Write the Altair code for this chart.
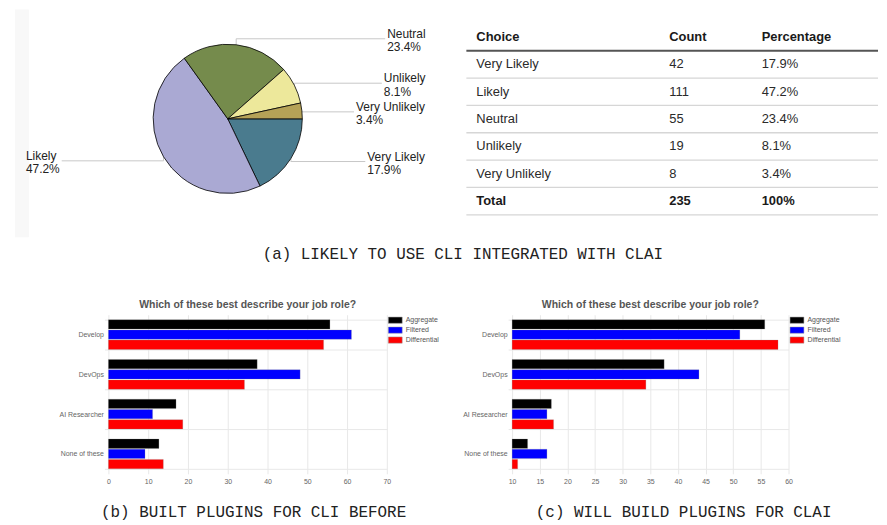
import math
import altair as alt
import pandas as pd

# ------------------------------------------------------------------ data
choices = ["Very Likely", "Likely", "Neutral", "Unlikely", "Very Unlikely"]
counts = [42, 111, 55, 19, 8]
pct_labels = ["17.9%", "47.2%", "23.4%", "8.1%", "3.4%"]
total_count = 235
total_pct = "100%"
table_header = ["Choice", "Count", "Percentage"]

roles = ["Develop", "DevOps", "AI Researcher", "None of these"]
series = ["Aggregate", "Filtered", "Differential"]
built_aggregate = [55.7, 37.4, 17.0, 12.7]
built_filtered = [61.1, 48.2, 11.1, 9.2]
built_differential = [54.1, 34.2, 18.7, 13.8]
will_aggregate = [55.7, 37.5, 17.1, 12.8]
will_filtered = [51.2, 43.8, 16.3, 16.3]
will_differential = [58.1, 34.2, 17.5, 11.0]

bar_title = "Which of these best describe your job role?"
caption_a = "(a) LIKELY TO USE CLI INTEGRATED WITH CLAI"
caption_b = "(b) BUILT PLUGINS FOR CLI BEFORE"
caption_c = "(c) WILL BUILD PLUGINS FOR CLAI"

# ------------------------------------------------------------------ style
pie_colors = ["#4a7b8e", "#aaa9d3", "#758b4c", "#ede89b", "#b5a257"]
bar_colors = ["#000000", "#0000ff", "#ff0000"]
FONT = "Liberation Sans"
MONO = "Liberation Mono"

PIE_W, PIE_H, R = 436, 220, 75
LABEL_RIGHT_EDGE = 199     # right column of labels (relative to pie centre)
LABEL_LEFT_EDGE = -203     # left column of labels
label_side = ["right", "left", "right", "right", "right"]
label_nudge = [3, 4, -6, -2, 1]
LABEL_FS = 12

# approximate Arial advance widths (1/1000 em) used to line up labels
ARIAL = {"V": 667, "e": 556, "r": 333, "y": 500, " ": 278, "L": 556, "i": 222,
         "k": 500, "N": 722, "u": 556, "t": 278, "a": 556, "l": 222, "U": 722,
         "n": 556, ".": 278, "%": 889}


def text_w(s, fs=LABEL_FS):
    return sum(ARIAL.get(c, 556) for c in s) * fs / 1000.0


# ------------------------------------------------------------------ pie
pie_df = pd.DataFrame({"choice": choices, "count": counts, "idx": range(len(choices))})

label_rows, leader_rows = [], []
cum = 0
for i, (c, n, p) in enumerate(zip(choices, counts, pct_labels)):
    frac_mid = (cum + n / 2) / total_count
    cum += n
    theta = math.pi / 2 + 2 * math.pi * frac_mid
    ax, ay = R * math.sin(theta), -R * math.cos(theta)
    ly = ay + label_nudge[i]
    if label_side[i] == "right":
        lx = LABEL_RIGHT_EDGE - text_w(c)
        ex = lx - 2
    else:
        lx = LABEL_LEFT_EDGE
        ex = lx + max(text_w(c), text_w(p)) + 2
    label_rows.append({"name": c, "pct": p, "x": lx, "y": ly})
    for k, (px, py) in enumerate([(ax, ay), (ax, ly), (ex, ly)]):
        leader_rows.append({"name": c, "k": k, "x": px, "y": py})

labels_df = pd.DataFrame(label_rows)
leader_df = pd.DataFrame(leader_rows)

xs = alt.Scale(domain=[-PIE_W / 2, PIE_W / 2], nice=False, zero=False)
ys = alt.Scale(domain=[-PIE_H / 2, PIE_H / 2], nice=False, zero=False, reverse=True)

strip = alt.Chart(pd.DataFrame({"a": [0]})).mark_rect(color="#f8f8f8").encode(
    x=alt.value(4), x2=alt.value(18), y=alt.value(0), y2=alt.value(PIE_H + 9))

leaders = alt.Chart(leader_df).mark_line(color="#c8c8c8", strokeWidth=1).encode(
    x=alt.X("x:Q", scale=xs, axis=None),
    y=alt.Y("y:Q", scale=ys, axis=None),
    detail="name:N",
    order="k:Q",
)

arcs = alt.Chart(pie_df).mark_arc(outerRadius=R, stroke="#000000", strokeWidth=0.8).encode(
    theta=alt.Theta("count:Q", stack=True,
                    scale=alt.Scale(range=[math.pi / 2, math.pi / 2 + 2 * math.pi])),
    color=alt.Color("choice:N", sort=choices,
                    scale=alt.Scale(domain=choices, range=pie_colors), legend=None),
    order=alt.Order("idx:Q"),
)

name_txt = alt.Chart(labels_df).mark_text(
    align="left", baseline="alphabetic", dy=-1, font=FONT, fontSize=LABEL_FS, color="#222222"
).encode(x=alt.X("x:Q", scale=xs, axis=None), y=alt.Y("y:Q", scale=ys, axis=None), text="name:N")

pct_txt = alt.Chart(labels_df).mark_text(
    align="left", baseline="alphabetic", dy=12.5, font=FONT, fontSize=LABEL_FS, color="#222222"
).encode(x=alt.X("x:Q", scale=xs, axis=None), y=alt.Y("y:Q", scale=ys, axis=None), text="pct:N")

pie = alt.layer(strip, leaders, arcs, name_txt, pct_txt).properties(width=PIE_W, height=PIE_H)

# ------------------------------------------------------------------ table
TAB_W, TAB_H = 414, 220
ROW_H = 27.5
TOP_OFF = 14
col_x = {"Choice": 10, "Count": 204, "Percentage": 297}

rows = [table_header] + [[c, str(n), p] for c, n, p in zip(choices, counts, pct_labels)] \
    + [["Total", str(total_count), total_pct]]
cells = []
for r, row in enumerate(rows):
    for col, val in zip(table_header, row):
        cells.append({"row": r, "col": col, "text": val,
                      "bold": r == 0 or r == len(rows) - 1})
cells_df = pd.DataFrame(cells)

y_top = -0.5 - TOP_OFF / ROW_H
tys = alt.Scale(domain=[y_top, y_top + TAB_H / ROW_H], nice=False, zero=False, reverse=True)

tab_layers = []
rule_df = pd.DataFrame({"pos": [r + 0.5 for r in range(len(rows))],
                        "kind": ["header"] + ["row"] * (len(rows) - 1)})
tab_layers.append(
    alt.Chart(rule_df).transform_filter("datum.kind == 'row'").mark_rule(
        color="#d6d6d6", strokeWidth=1.3).encode(
        y=alt.Y("pos:Q", scale=tys, axis=None), x=alt.value(0), x2=alt.value(TAB_W)))
tab_layers.append(
    alt.Chart(rule_df).transform_filter("datum.kind == 'header'").mark_rule(
        color="#555555", strokeWidth=2).encode(
        y=alt.Y("pos:Q", scale=tys, axis=None), x=alt.value(0), x2=alt.value(TAB_W)))
for col, cx in col_x.items():
    for bold in (True, False):
        tab_layers.append(
            alt.Chart(cells_df).transform_filter(
                f"datum.col == '{col}' && datum.bold == {str(bold).lower()}"
            ).mark_text(align="left", baseline="middle", font=FONT, fontSize=13,
                        fontWeight="bold" if bold else "normal",
                        color="#1a1a1a" if bold else "#2a2a2a").encode(
                x=alt.value(cx), y=alt.Y("row:Q", scale=tys, axis=None), text="text:N"))
table = alt.layer(*tab_layers).properties(width=TAB_W, height=TAB_H)

top = alt.concat(pie, table, columns=2, spacing=21, align="none").properties(
    title=alt.TitleParams(caption_a, orient="bottom", anchor="middle", font=MONO,
                          fontSize=16, fontWeight="normal", color="#222222", offset=9, dx=18))

# ------------------------------------------------------------------ bars


def bar_df(agg, filt, diff):
    recs = []
    for s, vals in zip(series, (agg, filt, diff)):
        for role, v in zip(roles, vals):
            recs.append({"role": role, "series": s, "value": v})
    return pd.DataFrame(recs)


def bar_chart(df, domain, ticks, caption, title_x, width):
    return alt.Chart(df).mark_bar(stroke="#888888", strokeWidth=0.5, strokeOpacity=0.5).encode(
        y=alt.Y("role:N", sort=roles,
                scale=alt.Scale(paddingInner=0.25, paddingOuter=0.125),
                axis=alt.Axis(title=None, tickBand="extent", grid=True, gridColor="#e8e8e8",
                              tickColor="#e8e8e8", tickSize=4, domain=False, labelFont=FONT,
                              labelFontSize=7, labelColor="#666666", labelPadding=1)),
        yOffset=alt.YOffset("series:N", sort=series,
                            scale=alt.Scale(paddingInner=0.08, paddingOuter=0)),
        x=alt.X("value:Q", scale=alt.Scale(domain=domain, nice=False, zero=False),
                axis=alt.Axis(values=ticks, grid=True, gridColor="#e8e8e8", domain=False,
                              ticks=False, labelFlush=False, labelFont=FONT, labelFontSize=7,
                              labelColor="#666666", labelPadding=4,
                              title=caption, titleFont=MONO, titleFontSize=16,
                              titleFontWeight="normal", titleColor="#222222",
                              titlePadding=19, titleX=title_x)),
        x2=alt.X2(datum=domain[0]),
        color=alt.Color("series:N", sort=series,
                        scale=alt.Scale(domain=series, range=bar_colors),
                        legend=alt.Legend(title=None, orient="right", offset=3, padding=0,
                                          symbolType="M-1.33,-0.6H1.33V0.6H-1.33Z",
                                          symbolSize=110,
                                          symbolStrokeWidth=0.5, symbolStrokeColor="#999999",
                                          labelFont=FONT, labelFontSize=7,
                                          labelColor="#555555", rowPadding=0, labelOffset=5)),
    ).properties(
        width=width, height=160,
        title=alt.TitleParams(bar_title, font=FONT, fontSize=10.5, fontWeight="bold",
                              color="#555555", anchor="middle", frame="group", offset=0),
    )


bar_b = bar_chart(bar_df(built_aggregate, built_filtered, built_differential),
                  [0, 70], list(range(0, 71, 10)), caption_b, 145.5, 280)
bar_c = bar_chart(bar_df(will_aggregate, will_filtered, will_differential),
                  [10, 60], list(range(10, 61, 5)), caption_c, 172, 278)

# empty spacer that reserves the left margin of the lower row
spacer = alt.Chart(pd.DataFrame({"a": [0]})).mark_point(opacity=0).encode(
    x=alt.value(0), y=alt.value(0)).properties(width=25, height=10)

bottom = alt.concat(spacer, bar_b, bar_c, columns=3, spacing=23, align="none") \
    .resolve_scale(color="independent").resolve_legend(color="independent")

chart = alt.concat(top, bottom, columns=1, spacing=38, align="none") \
    .resolve_scale(color="independent").resolve_legend(color="independent") \
    .properties(padding=0) \
    .configure(font=FONT, padding=0) \
    .configure_view(strokeWidth=0, stroke="transparent")

chart.save("out.html", embed_options={"renderer": "svg", "actions": False})
